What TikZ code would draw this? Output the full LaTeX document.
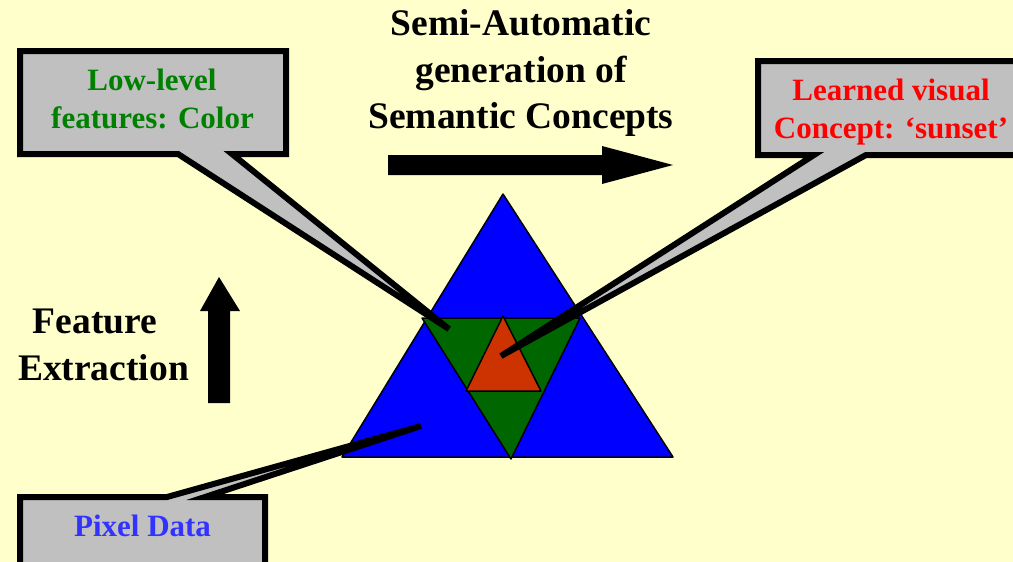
\documentclass[tikz,border=0pt]{standalone}
\usepackage{fontspec}
\setmainfont{Liberation Serif}
\definecolor{bgyellow}{HTML}{FFFFCC}
\definecolor{triblue}{HTML}{0000FF}
\definecolor{trigreen}{HTML}{006600}
\definecolor{triorange}{HTML}{CC3300}
\definecolor{boxgray}{HTML}{C0C0C0}
\definecolor{txtgreen}{HTML}{008000}
\definecolor{txtred}{HTML}{FF0000}
\definecolor{txtblue}{HTML}{3333FF}
\begin{document}
\begin{tikzpicture}[x=1pt,y=-1pt,
  callout/.style={fill=boxgray,draw=black,line width=6pt,line join=miter},
  tri/.style={draw=black,line width=1.5pt,line join=round},
  bigtxt/.style={font=\bfseries\fontsize{37.5}{46}\selectfont,anchor=base,inner sep=0pt},
  boxtxt/.style={font=\bfseries\fontsize{31}{38}\selectfont,anchor=base,inner sep=0pt}]
% page
\fill[bgyellow] (0,0) rectangle (1013,562);
\useasboundingbox (0,0) rectangle (1013,562);

% nested triangles
\coordinate (bA) at (342,457);
\coordinate (bB) at (673,457);
\coordinate (bC) at (503,194);
\coordinate (gA) at (422,318);
\coordinate (gB) at (580,318);
\coordinate (gC) at (511,459);
\coordinate (oA) at (466,391);
\coordinate (oB) at (541,391);
\coordinate (oC) at (503,316);
\filldraw[tri,fill=triblue] (bA) -- (bB) -- (bC) -- cycle;
\filldraw[tri,fill=trigreen] (gA) -- (gB) -- (gC) -- cycle;
\filldraw[tri,fill=triorange] (oA) -- (oB) -- (oC) -- cycle;

% callout tips
\coordinate (tipLow) at (449,329);
\coordinate (tipHigh) at (501,356);
\coordinate (tipPix) at (421,426);

% callout boxes with pointers
\draw[callout] (20,51) -- (286,51) -- (286,154) -- (232,154) -- (tipLow)
  -- (178,154) -- (20,154) -- cycle;
\draw[callout] (758,61) -- (1030,61) -- (1030,155) -- (866,155) -- (tipHigh)
  -- (814,155) -- (758,155) -- cycle;
\draw[callout] (20,497) -- (167,497) -- (tipPix) -- (205,497) -- (265,497)
  -- (265,580) -- (20,580) -- cycle;

% callout texts
\node[boxtxt,text=txtgreen] (low1) at (152,90) {Low-level};
\node[boxtxt,text=txtgreen] (low2) at (152.5,128) {features: Color};
\node[boxtxt,text=txtred] (high1) at (891,100) {Learned visual};
\node[boxtxt,text=txtred] (high2) at (891,138) {Concept: `sunset'};
\node[boxtxt,text=txtblue] (pix) at (142.5,536) {Pixel Data};

% headings
\node[bigtxt] (t1) at (521,35) {Semi-Automatic};
\node[bigtxt] (t2) at (521,82) {generation of};
\node[bigtxt] (t3) at (521,128) {Semantic Concepts};
\node[bigtxt] (f1) at (95,333) {Feature};
\node[bigtxt] (f2) at (103.5,380) {Extraction};

% block arrows
\fill[black] (388,155) -- (602,155) -- (602,146) -- (673,165) -- (602,184)
  -- (602,175) -- (388,175) -- cycle;
\fill[black] (208,403) -- (208,311) -- (200,311) -- (219,277) -- (240,311)
  -- (230,311) -- (230,403) -- cycle;
\end{tikzpicture}
\end{document}
